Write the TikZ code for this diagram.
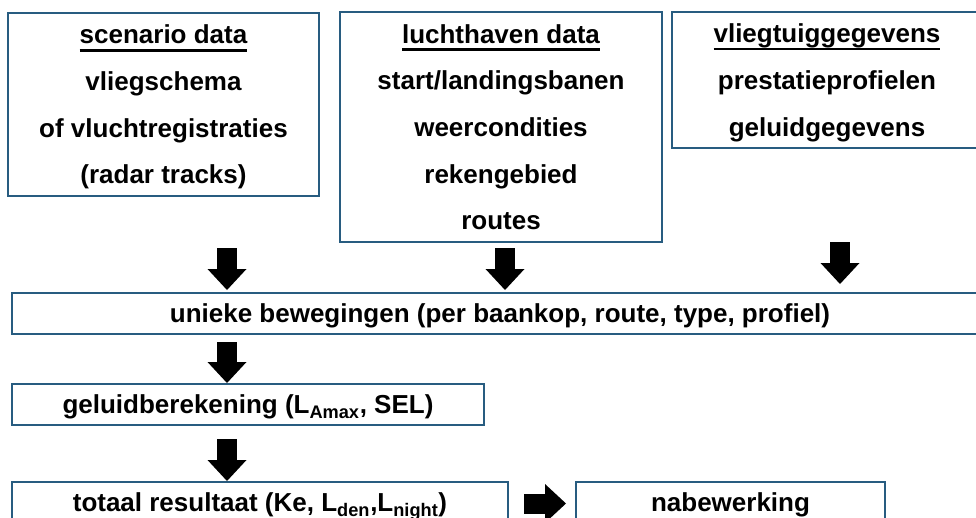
\documentclass[tikz,border=0pt]{standalone}
\usepackage{fontspec}
\setmainfont{Liberation Sans}
\usetikzlibrary{arrows.meta}
\definecolor{boxline}{RGB}{40,92,128}
\newsavebox{\headbox}
\newcommand{\headline}[1]{\sbox{\headbox}{#1}\rlap{\rule[-5.7pt]{\wd\headbox}{2pt}}\usebox{\headbox}}
\newcommand{\lsub}[1]{L\textsubscript{#1}}

\begin{document}
\begin{tikzpicture}[x=0.75pt,y=-0.75pt,
    databox/.style={draw=boxline,line width=0.9pt,align=center,inner sep=0pt,
      text depth=0pt,font=\fontsize{19.5}{35}\selectfont\bfseries},
    fatarrow/.style={line width=15pt,
      -{Triangle[length=15.75pt 0,width=29.25pt 0,line width=0pt 0]}}]
    \useasboundingbox (0,0) rectangle (976,518);
    \clip (0,0) rectangle (976,518);

    % input data
    \node[databox,minimum width=233.25pt,minimum height=137.25pt] (scen) at (163.5,104.5)
        {\headline{scenario data}\\vliegschema\\of vluchtregistraties\\(radar tracks)};
    \node[databox,minimum width=241.5pt,minimum height=172.5pt] (lucht) at (501,127)
        {\headline{luchthaven data}\\start/landingsbanen\\weercondities\\rekengebied\\routes};
    \node[databox,minimum width=232.5pt,minimum height=102pt] (vlieg) at (827,80)
        {\headline{vliegtuiggegevens}\\prestatieprofielen\\geluidgegevens};

    % processing chain
    \node[databox,minimum width=732pt,minimum height=30.75pt] (uniek) at (500,313.5)
        {unieke bewegingen (per baankop, route, type, profiel)};
    \node[databox,minimum width=354pt,minimum height=30.75pt] (geluid) at (248,404.5)
        {geluidberekening (\lsub{Amax}, SEL)};
    \node[databox,minimum width=372pt,minimum height=30.75pt] (totaal) at (260,502.5)
        {totaal resultaat (Ke, \lsub{den},\lsub{night})};
    \node[databox,minimum width=231.75pt,minimum height=30.75pt] (nabew) at (730.5,502.5)
        {nabewerking};

    % block arrows
    \foreach \n/\xa/\ya/\xb/\yb in {scen/227/248/227/290, lucht/505/248/505/290,
        vlieg/840/242/840/284, uniek/227/342/227/383, geluid/227/439/227/481,
        totaal/524/503.5/566/503.5} {
        \coordinate (\n tail) at (\xa,\ya);
        \coordinate (\n tip) at (\xb,\yb);
        \draw[fatarrow] (\n tail) -- (\n tip);
    }
\end{tikzpicture}
\end{document}
